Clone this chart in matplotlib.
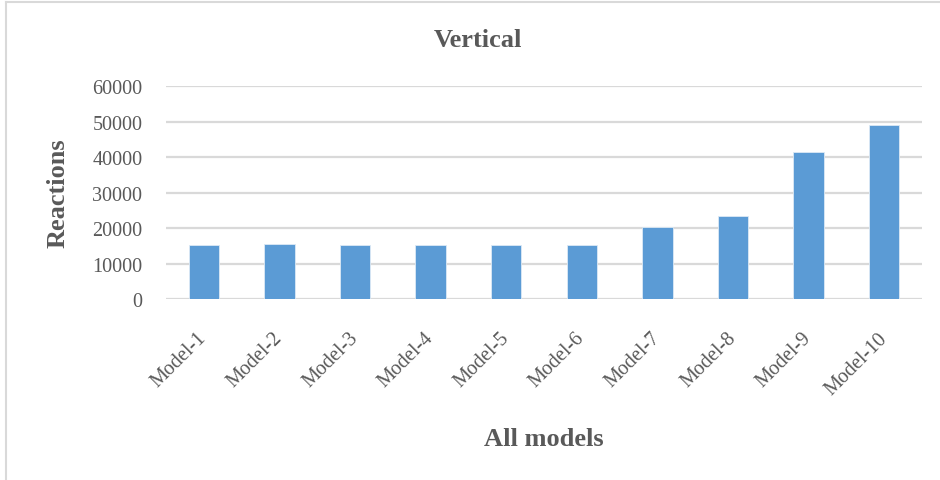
import matplotlib.pyplot as plt
from matplotlib.lines import Line2D

models = ["Model-1", "Model-2", "Model-3", "Model-4", "Model-5",
          "Model-6", "Model-7", "Model-8", "Model-9", "Model-10"]
reactions = [15300, 15500, 15200, 15200, 15300,
             15300, 20300, 23300, 41600, 49100]
yticks = [0, 10000, 20000, 30000, 40000, 50000, 60000]

plt.rcParams['font.family'] = ['Liberation Serif', 'DejaVu Serif']
txt = '#595959'
grid = '#d9d9d9'

fig = plt.figure(figsize=(9.4, 4.81), dpi=100)
ax = fig.add_axes([166 / 940, 1 - 300 / 481, 756 / 940, 212.7 / 481])

x = range(len(models))
ax.bar(x, reactions, width=0.4, color='#5b9bd5', edgecolor='#dce9f5',
       linewidth=0.6, zorder=3)

ax.set_xlim(-0.5, len(models) - 0.5)
ax.set_ylim(0, 60000)
ax.set_yticks(yticks)
ax.set_yticklabels([str(v) for v in yticks])
ax.set_xticks(list(x))
ax.set_xticklabels(models, rotation=45, ha='right', va='center',
                   rotation_mode='anchor')

ax.grid(axis='y', color=grid, linewidth=1.6, zorder=0)
for s in ax.spines.values():
    s.set_visible(False)
ax.tick_params(axis='y', length=0, pad=17, labelsize=14.5, labelcolor=txt)
ax.tick_params(axis='x', length=0, pad=26, labelsize=14.5, labelcolor=txt)

ax.set_ylabel("Reactions", fontsize=19, fontweight='bold', color=txt)
ax.yaxis.set_label_coords(-0.128, 0.5)
ax.set_xlabel("All models", fontsize=19, fontweight='bold', color=txt,
              va='center')
ax.xaxis.set_label_coords(0.5, -0.655)

fig.text(478 / 940, 1 - 41 / 481, "Vertical", ha='center', va='center',
         fontsize=19, fontweight='bold', color=txt)

# chart frame (left and top edges)
fig.add_artist(Line2D([6 / 940, 6 / 940], [0, 1 - 3 / 481],
                      transform=fig.transFigure, color=grid, linewidth=1.5))
fig.add_artist(Line2D([6 / 940, 1], [1 - 3 / 481, 1 - 3 / 481],
                      transform=fig.transFigure, color=grid, linewidth=1.5))

fig.savefig("out.png", dpi=100, facecolor='white')
